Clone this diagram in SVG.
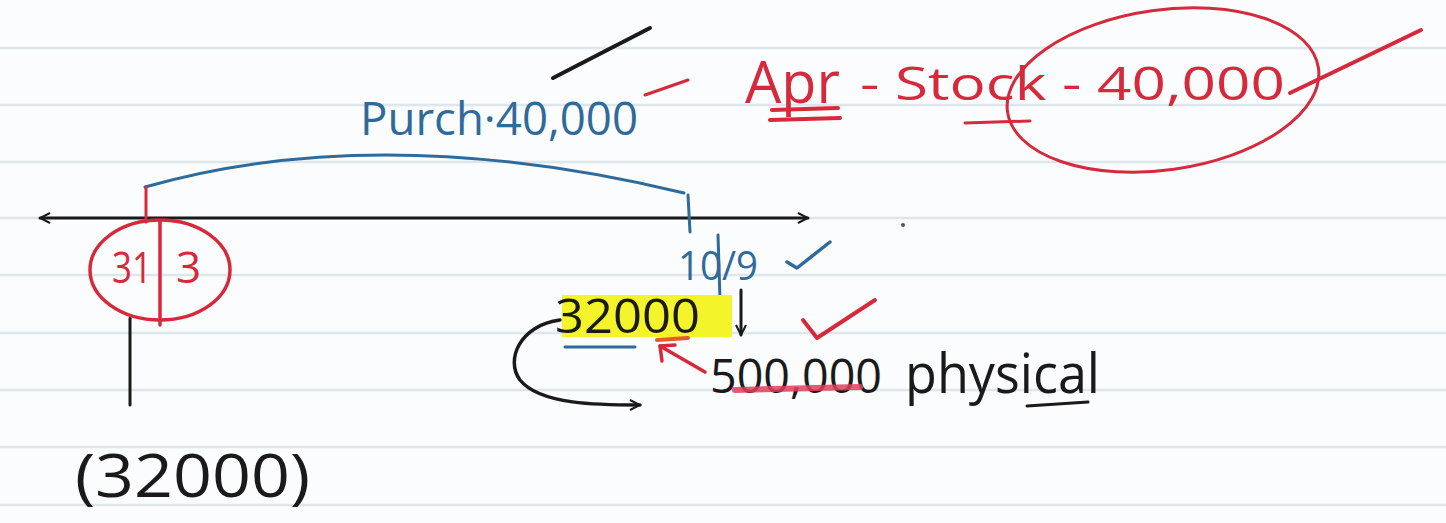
<svg xmlns="http://www.w3.org/2000/svg" width="1446" height="523" viewBox="0 0 1446 523">
<style>
.rule{stroke:#dde6ea;stroke-width:2.5}
.ink{fill:none;stroke-linecap:round;stroke-linejoin:round}
.k{stroke:#1a1a1a}
.r{stroke:#d62a3c}
.b{stroke:#2f6b9a}
.t{font-family:"Open Sans","Liberation Sans",sans-serif;font-weight:400}
.tk{fill:#1a1a1a}
.tr{fill:#d62a3c}
.tb{fill:#2f6b9a}
</style>
<defs>
<marker id="ah" viewBox="0 0 12 12" refX="11" refY="6" markerWidth="12" markerHeight="12" markerUnits="userSpaceOnUse" orient="auto-start-reverse">
<path d="M1,1 L11,6 L1,11" fill="none" stroke="#1a1a1a" stroke-width="2"/>
</marker>
</defs>
<rect width="1446" height="523" fill="#fbfcfd"/>
<g id="ruling">
<line class="rule" x1="0" y1="48" x2="1446" y2="48"/>
<line class="rule" x1="0" y1="105" x2="1446" y2="105"/>
<line class="rule" x1="0" y1="162" x2="1446" y2="162"/>
<line class="rule" x1="0" y1="218" x2="1446" y2="218"/>
<line class="rule" x1="0" y1="275" x2="1446" y2="275"/>
<line class="rule" x1="0" y1="333" x2="1446" y2="333"/>
<line class="rule" x1="0" y1="390" x2="1446" y2="390"/>
<line class="rule" x1="0" y1="447" x2="1446" y2="447"/>
<line class="rule" x1="0" y1="505" x2="1446" y2="505"/>
</g>
<g id="top-marks">
<line class="ink k" x1="553" y1="78" x2="650" y2="28" stroke-width="4"/>
<line class="ink r" x1="645" y1="95" x2="688" y2="80" stroke-width="3"/>
</g>
<g id="purch">
<text class="t tb" x="360" y="135" font-size="46" textLength="278" lengthAdjust="spacingAndGlyphs">Purch·40,000</text>
</g>
<g id="apr-stock">
<text class="t tr" x="745" y="103" font-size="58" textLength="95" lengthAdjust="spacingAndGlyphs">Apr</text>
<text class="t tr" x="860" y="100" font-size="46" textLength="425" lengthAdjust="spacingAndGlyphs">- Stock - 40,000</text>
<line class="ink r" x1="772" y1="110" x2="838" y2="108" stroke-width="4"/>
<line class="ink r" x1="770" y1="120" x2="840" y2="118" stroke-width="4"/>
<line class="ink r" x1="965" y1="123" x2="1030" y2="121" stroke-width="3"/>
<ellipse class="ink r" cx="1163" cy="90" rx="157" ry="80" transform="rotate(-8 1163 90)" stroke-width="3"/>
<line class="ink r" x1="1290" y1="93" x2="1421" y2="30" stroke-width="4"/>
</g>
<g id="connectors">
<line class="ink k" x1="40" y1="218" x2="808" y2="218" stroke-width="3" marker-start="url(#ah)" marker-end="url(#ah)"/>
<path class="ink b" d="M145,187 Q380,120 684,193" stroke-width="3"/>
<line class="ink r" x1="146" y1="187" x2="146" y2="222" stroke-width="3"/>
<line class="ink b" x1="688" y1="195" x2="690" y2="232" stroke-width="3"/>
<line class="ink k" x1="130" y1="318" x2="130" y2="405" stroke-width="3"/>
<line class="ink k" x1="741" y1="290" x2="741" y2="335" stroke-width="3" marker-end="url(#ah)"/>
<path class="ink k" d="M560,320 C520,325 505,360 520,380 C540,405 600,405 640,405" stroke-width="3.5" marker-end="url(#ah)"/>
<line class="ink r" x1="705" y1="372" x2="660" y2="346" stroke-width="3.5"/>
<path class="ink r" d="M660,346 L662,361 M660,346 L675,345" stroke-width="3.5"/>
<circle cx="903" cy="225" r="2" fill="#555"/>
</g>
<g id="date-31-3">
<ellipse class="ink r" cx="160" cy="270" rx="70" ry="50" stroke-width="3.5"/>
<line class="ink r" x1="160" y1="222" x2="160" y2="325" stroke-width="3.5"/>
<text class="t tr" x="112" y="283" font-size="44" textLength="40" lengthAdjust="spacingAndGlyphs">31</text>
<text class="t tr" x="176" y="283" font-size="44">3</text>
</g>
<g id="opening">
<text class="t tk" x="75" y="497" font-size="60" textLength="235" lengthAdjust="spacingAndGlyphs">(32000)</text>
</g>
<g id="date-10-9">
<text class="t tb" x="678" y="280" font-size="40" textLength="80" lengthAdjust="spacingAndGlyphs">10/9</text>
<line class="ink b" x1="718" y1="235" x2="720" y2="300" stroke-width="3"/>
<path class="ink b" d="M787,262 L797,268 L830,242" stroke-width="3.5"/>
</g>
<g id="closing">
<rect x="562" y="295" width="170" height="42" fill="#f4f42a"/>
<text class="t tk" x="555" y="333" font-size="48" textLength="145" lengthAdjust="spacingAndGlyphs">32000</text>
<line class="ink b" x1="565" y1="347" x2="635" y2="347" stroke-width="3"/>
<line class="ink" x1="657" y1="340" x2="688" y2="338" stroke="#e85a2a" stroke-width="4"/>
<path class="ink r" d="M803,320 L817,338 L875,300" stroke-width="4"/>
</g>
<g id="physical">
<text class="t tk" x="710" y="393" font-size="48" textLength="172" lengthAdjust="spacingAndGlyphs">500,000</text>
<text class="t tk" x="905" y="393" font-size="54" textLength="195" lengthAdjust="spacingAndGlyphs">physical</text>
<path class="ink" d="M735,390 L860,387" stroke="#e0405a" stroke-width="6" opacity="0.85"/>
<line class="ink k" x1="1027" y1="406" x2="1088" y2="402" stroke-width="3"/>
</g>
</svg>
